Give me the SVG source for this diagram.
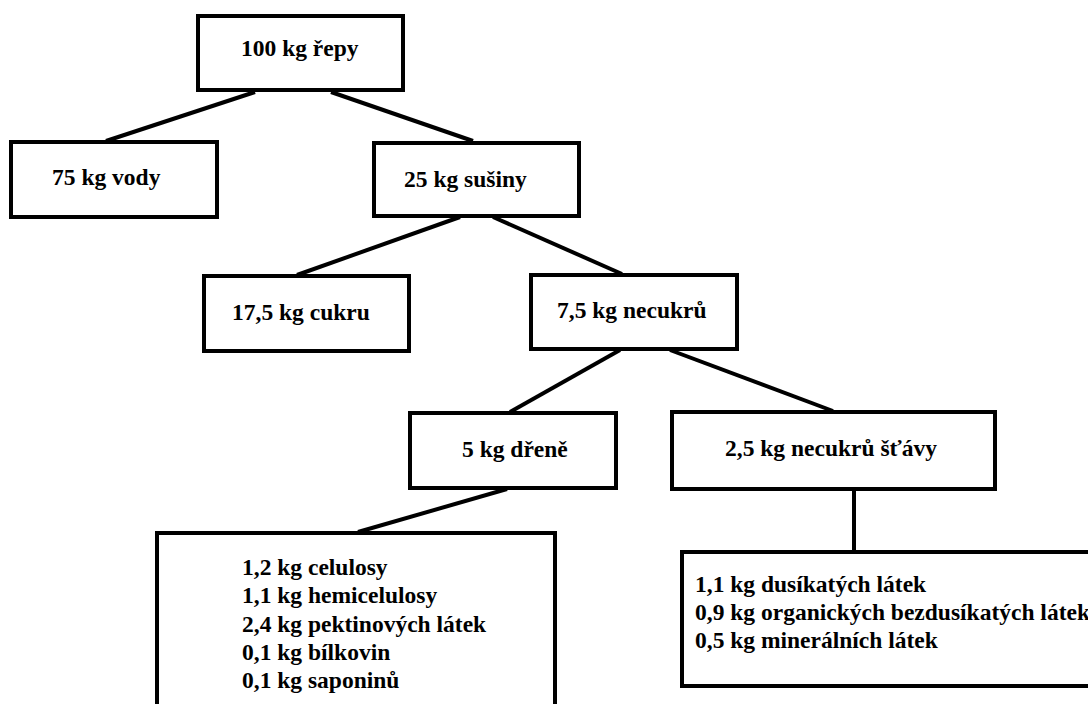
<svg xmlns="http://www.w3.org/2000/svg" width="1088" height="704" viewBox="0 0 1088 704">
<style>
.box{fill:#fff;stroke:#000;stroke-width:4}
.ln{stroke:#000;stroke-width:4;fill:none}
.t{font-family:'Liberation Serif','Times New Roman',serif;font-weight:bold;font-size:23.5px;fill:#000}
</style>
<rect width="1088" height="704" fill="#fff"/>
<g id="connectors">
<line class="ln" x1="255" y1="92" x2="106" y2="141"/>
<line class="ln" x1="331" y1="92" x2="473" y2="141"/>
<line class="ln" x1="460" y1="217" x2="297" y2="275"/>
<line class="ln" x1="493" y1="217" x2="622" y2="274"/>
<line class="ln" x1="620" y1="350" x2="510" y2="412"/>
<line class="ln" x1="670" y1="350" x2="833" y2="411"/>
<line class="ln" x1="507" y1="489" x2="358" y2="532"/>
<line class="ln" x1="854" y1="490" x2="854" y2="551"/>
</g>
<g class="t">
<g id="n1"><rect class="box" x="198" y="16" width="205" height="74"/><text x="241" y="56">100 kg řepy</text></g>
<g id="n2"><rect class="box" x="11" y="142" width="206" height="75"/><text x="52" y="185">75 kg vody</text></g>
<g id="n3"><rect class="box" x="374" y="143" width="205" height="73"/><text x="404" y="187">25 kg sušiny</text></g>
<g id="n4"><rect class="box" x="204" y="276" width="205" height="75"/><text x="232" y="320">17,5 kg cukru</text></g>
<g id="n5"><rect class="box" x="531" y="275" width="206" height="74"/><text x="557" y="318">7,5 kg necukrů</text></g>
<g id="n6"><rect class="box" x="410" y="413" width="206" height="75"/><text x="462" y="457">5 kg dřeně</text></g>
<g id="n7"><rect class="box" x="672" y="412" width="323" height="77"/><text x="725" y="456">2,5 kg necukrů šťávy</text></g>
<g id="n8"><rect class="box" x="157" y="533" width="398" height="200"/>
<text x="242" y="575">1,2 kg celulosy</text>
<text x="242" y="603">1,1 kg hemicelulosy</text>
<text x="242" y="632">2,4 kg pektinových látek</text>
<text x="242" y="660">0,1 kg bílkovin</text>
<text x="242" y="688">0,1 kg saponinů</text>
</g>
<g id="n9"><rect class="box" x="682" y="552" width="420" height="134"/>
<text x="695" y="592">1,1 kg dusíkatých látek</text>
<text x="695" y="620">0,9 kg organických bezdusíkatých látek</text>
<text x="695" y="648">0,5 kg minerálních látek</text>
</g>
</g>
</svg>
